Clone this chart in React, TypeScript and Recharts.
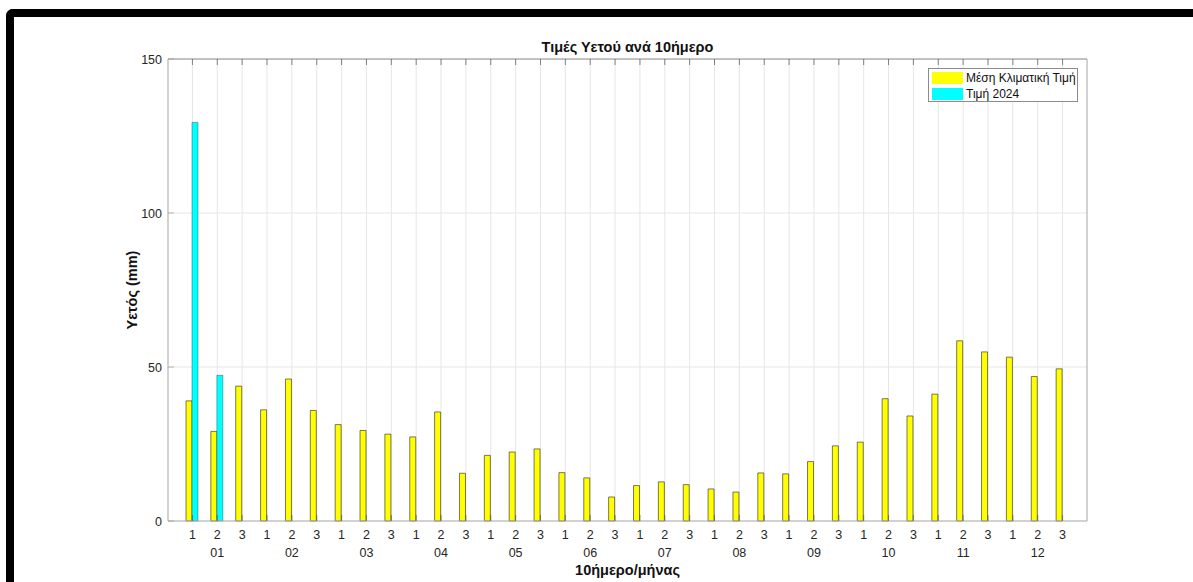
import React from 'react';
import { BarChart, Bar, XAxis, YAxis, CartesianGrid, Label } from 'recharts';

const TITLE = 'Τιμές Υετού ανά 10ήμερο';
const Y_LABEL = 'Υετός (mm)';
const X_LABEL = '10ήμερο/μήνας';
const SERIES_CLIMATE = 'Μέση Κλιματική Τιμή';
const SERIES_2024 = 'Τιμή 2024';

const DECADES = ['1', '2', '3'];
const MONTHS = ['01', '02', '03', '04', '05', '06', '07', '08', '09', '10', '11', '12'];
const Y_TICKS = [0, 50, 100, 150];

const CLIMATE = [
  39.0, 29.1, 43.8, 36.1, 46.1, 35.9, 31.3, 29.4, 28.2, 27.3, 35.4, 15.5,
  21.3, 22.4, 23.4, 15.7, 14.0, 7.8, 11.5, 12.7, 11.8, 10.4, 9.4, 15.6,
  15.3, 19.3, 24.4, 25.6, 39.7, 34.1, 41.2, 58.5, 54.9, 53.2, 46.9, 49.4,
];
const VALUES_2024 = [129.4, 47.3];

const YELLOW = '#ffff00';
const CYAN = '#00ffff';
const FONT = '"Liberation Sans", Arial, Helvetica, sans-serif';
const TEXT = '#262626';

const data = CLIMATE.map((c, i) => ({
  id: `${MONTHS[Math.floor(i / 3)]}-${DECADES[i % 3]}`,
  decade: DECADES[i % 3],
  month: i % 3 === 1 ? MONTHS[Math.floor(i / 3)] : '',
  clim: c,
  y2024: i < VALUES_2024.length ? VALUES_2024[i] : null,
}));

const BottomTick = (props: any) => {
  const { x, y, index } = props;
  const d = data[index];
  return (
    <g>
      <line x1={x} x2={x} y1={y} y2={y - 6} stroke="#555" strokeWidth={0.7} />
      <text x={x} y={y + 18} textAnchor="middle" fontSize={12.5} fill={TEXT} fontFamily={FONT}>
        {d ? d.decade : ''}
      </text>
      {d && d.month ? (
        <text x={x} y={y + 36} textAnchor="middle" fontSize={12.5} fill={TEXT} fontFamily={FONT}>
          {d.month}
        </text>
      ) : null}
    </g>
  );
};

const TopTick = (props: any) => {
  const { x, y } = props;
  return <line x1={x} x2={x} y1={y} y2={y + 6} stroke="#555" strokeWidth={0.7} />;
};

const LeftTick = (props: any) => {
  const { x, y, payload } = props;
  return (
    <g>
      <line x1={x} x2={x + 6} y1={y} y2={y} stroke="#999" strokeWidth={0.7} />
      <text x={x - 6} y={y + 4.5} textAnchor="end" fontSize={12.5} fill={TEXT} fontFamily={FONT}>
        {payload.value}
      </text>
    </g>
  );
};

const RightTick = (props: any) => {
  const { x, y } = props;
  return <line x1={x} x2={x - 6} y1={y} y2={y} stroke="#999" strokeWidth={0.7} />;
};

export default function App() {
  return (
    <div
      style={{
        position: 'absolute',
        left: 0,
        top: 0,
        width: 1193,
        height: 582,
        overflow: 'hidden',
        background: '#fff',
        fontFamily: FONT,
      }}
    >
      <div
        style={{
          position: 'absolute',
          left: 6,
          top: 9,
          width: 1300,
          height: 700,
          borderTop: '8px solid #000',
          borderLeft: '8px solid #000',
          borderTopLeftRadius: 7,
        }}
      />
      <div style={{ position: 'absolute', left: 0, top: 0 }}>
        <BarChart
          width={1193}
          height={582}
          data={data}
          margin={{ top: 58, right: 105, bottom: 6, left: 128 }}
          barSize={6}
          barGap={0}
        >
          <CartesianGrid xAxisId="main" yAxisId="left" stroke="#e6e6e6" strokeWidth={1} />
          <XAxis
            xAxisId="main"
            dataKey="id"
            height={55}
            interval={0}
            tickSize={0}
            tickMargin={0}
            tickLine={false}
            axisLine={{ stroke: '#b0b0b0' }}
            tick={BottomTick}
            padding={{ left: 12, right: 12 }}
          >
            <Label
              value={X_LABEL}
              position="insideBottom"
              offset={1}
              style={{ fontSize: 14.5, fontWeight: 'bold', fill: '#111', fontFamily: FONT }}
            />
          </XAxis>
          <XAxis
            xAxisId="top"
            orientation="top"
            dataKey="id"
            height={1}
            interval={0}
            tickSize={0}
            tickMargin={0}
            tickLine={false}
            axisLine={{ stroke: '#909090' }}
            tick={TopTick}
            padding={{ left: 12, right: 12 }}
          />
          <YAxis
            yAxisId="left"
            width={40}
            domain={[0, 150]}
            ticks={Y_TICKS}
            tickSize={0}
            tickMargin={0}
            tickLine={false}
            axisLine={{ stroke: '#b0b0b0' }}
            tick={LeftTick}
          >
            <Label
              value={Y_LABEL}
              angle={-90}
              position="insideLeft"
              offset={3.5}
              style={{ textAnchor: 'middle', fontSize: 14.5, fontWeight: 'bold', fill: '#111', fontFamily: FONT }}
            />
          </YAxis>
          <YAxis
            yAxisId="right"
            orientation="right"
            width={1}
            domain={[0, 150]}
            ticks={Y_TICKS}
            tickSize={0}
            tickMargin={0}
            tickLine={false}
            axisLine={{ stroke: '#b0b0b0' }}
            tick={RightTick}
          />
          <Bar
            xAxisId="main"
            yAxisId="left"
            dataKey="clim"
            name={SERIES_CLIMATE}
            fill={YELLOW}
            stroke="#222"
            strokeWidth={0.6}
            isAnimationActive={false}
          />
          <Bar
            xAxisId="main"
            yAxisId="left"
            dataKey="y2024"
            name={SERIES_2024}
            fill={CYAN}
            stroke="#333"
            strokeWidth={0.4}
            isAnimationActive={false}
          />
        </BarChart>
      </div>
      <div
        style={{
          position: 'absolute',
          left: 168,
          width: 919,
          top: 39,
          lineHeight: '17px',
          textAlign: 'center',
          fontSize: 14.5,
          fontWeight: 'bold',
          color: '#111',
        }}
      >
        {TITLE}
      </div>
      <div
        style={{
          position: 'absolute',
          left: 928,
          top: 68,
          width: 150,
          height: 34,
          boxSizing: 'border-box',
          border: '1px solid #8c8c8c',
          background: '#fff',
          paddingTop: 1,
        }}
      >
        {[
          { name: SERIES_CLIMATE, color: YELLOW },
          { name: SERIES_2024, color: CYAN },
        ].map((s) => (
          <div key={s.name} style={{ display: 'flex', alignItems: 'center', height: 16, fontSize: 12, lineHeight: '16px', color: '#111', whiteSpace: 'nowrap' }}>
            <div style={{ width: 31, height: 12, marginLeft: 3, marginRight: 3, background: s.color, flexShrink: 0 }} />
            <span>{s.name}</span>
          </div>
        ))}
      </div>
    </div>
  );
}
